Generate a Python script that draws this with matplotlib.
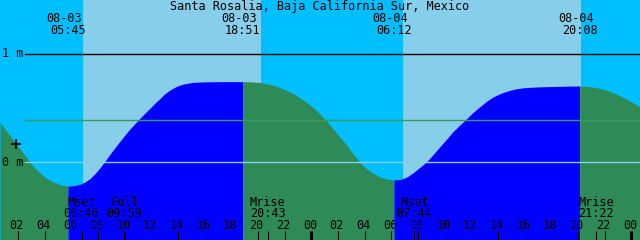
import matplotlib
matplotlib.use("Agg")
import matplotlib.pyplot as plt

# tide curve samples: hours since 08-03 00:00, metres
tide_hours = [0.65, 1.25, 1.85, 2.40, 2.90, 3.35, 3.80, 4.25, 4.70, 5.20, 5.75,
              6.20, 6.65, 7.05, 7.40, 7.80, 8.15, 8.55, 8.90, 9.30, 9.65,
              10.30, 11.00, 11.45, 11.90, 12.30, 12.65, 13.00, 13.40, 13.80,
              14.15, 14.60, 15.125, 15.75, 16.40, 17.50, 18.85,
              19.50, 20.15, 20.80, 21.425, 22.00, 22.625, 23.25, 23.90, 24.30,
              24.65, 25.15, 25.625, 26.15, 26.675, 27.15, 27.65, 28.10,
              28.625, 29.15, 29.675, 30.20,
              30.70, 31.175, 31.65, 32.15, 32.65, 33.15, 33.65, 34.15, 34.60,
              35.05, 35.525, 36.10, 36.65, 37.15, 37.625, 38.15, 38.675, 39.25,
              39.875, 40.75, 41.675, 43.00, 44.133,
              44.90, 45.65, 46.15, 46.625, 47.15, 47.675, 48.15, 48.65]
tide_heights = [0.366, 0.27, 0.175, 0.085, 0.0, -0.065, -0.115, -0.155, -0.185,
                -0.207, -0.22,
                -0.215, -0.203, -0.18, -0.15, -0.10, -0.05, 0.015, 0.075, 0.14,
                0.195, 0.295, 0.388, 0.445, 0.50, 0.55, 0.59, 0.632, 0.668,
                0.696, 0.714, 0.728, 0.738, 0.742, 0.744, 0.745, 0.745,
                0.743, 0.737, 0.722, 0.700, 0.672, 0.635, 0.588, 0.530, 0.488,
                0.446, 0.380, 0.310, 0.232, 0.155, 0.075, 0.0, -0.055, -0.100,
                -0.135, -0.155, -0.163,
                -0.157, -0.135, -0.095, -0.045, 0.005, 0.075, 0.145, 0.215,
                0.28, 0.335, 0.388, 0.458, 0.515, 0.565, 0.603, 0.634, 0.657,
                0.676, 0.688, 0.695, 0.699, 0.703, 0.705,
                0.698, 0.683, 0.666, 0.643, 0.615, 0.582, 0.548, 0.513]

# high / low tide events
extreme_days = [0, 0, 1, 1]
extreme_dates = ["08-03", "08-03", "08-04", "08-04"]
extreme_times = ["05:45", "18:51", "06:12", "20:08"]

# moon events
moon_days = [0, 0, 0, 1, 1]
moon_names = ["Mset", "Full", "Mrise", "Mset", "Mrise"]
moon_times = ["06:46", "09:59", "20:43", "07:44", "21:22"]

# daylight
sun_days = [0, 1]
sunrise_times = ["06:52", "06:52"]
sunset_times = ["20:13", "20:13"]

now_hour = 1.87
now_height = 0.17
mean_level = 0.388
title = "Santa Rosalia, Baja California Sur, Mexico"

T0, T1 = 0.65, 48.65
NIGHT = "#00BFFF"
DAY = "#87CEEB"
EBB = "#2E8B57"
FLOOD = "#0000FF"
FONT = dict(family="DejaVu Sans Mono", fontsize=8.5, color="black")


def to_hours(day, hhmm):
    h, m = hhmm.split(":")
    return day * 24 + int(h) + int(m) / 60.0


def ypx(p):
    # pixel row (from top) -> axes fraction
    return 1 - p / 240.0


fig = plt.figure(figsize=(6.4, 2.4), dpi=100)
ax = fig.add_axes([0, 0, 1, 1])
ax.set_xlim(T0, T1)
ax.set_ylim(-0.717, 1.499)
ax.axis("off")

# sky
ax.axvspan(T0, T1, color=NIGHT, lw=0, zorder=0)
for d, sr, ss in zip(sun_days, sunrise_times, sunset_times):
    ax.axvspan(to_hours(d, sr), to_hours(d, ss), color=DAY, lw=0, zorder=0)

# tide fill, blue while rising, green while falling
ext_hours = [to_hours(d, t) for d, t in zip(extreme_days, extreme_times)]
bounds = [T0] + ext_hours + [T1]
for i in range(len(bounds) - 1):
    a, b = bounds[i], bounds[i + 1]
    pts = [(t, h) for t, h in zip(tide_hours, tide_heights)
           if a - 0.01 <= t <= b + 0.01]
    xs = [p[0] for p in pts]
    ys = [p[1] for p in pts]
    rising = ys[-1] > ys[0]
    ax.fill_between(xs, ys, -1, color=FLOOD if rising else EBB, lw=0,
                    zorder=1)

# level lines
ax.axhline(1.0, xmin=25 / 640, color="black", lw=1.0, zorder=2)
ax.axhline(0.0, xmin=25 / 640, color="#87CEEB", lw=1.0, zorder=2)
ax.axhline(mean_level, xmin=25 / 640, color="#3A9A5E", lw=1.0, zorder=2)

tr = ax.get_xaxis_transform()
ax.text(2 / 640, ypx(57.3), "1 m", transform=ax.transAxes,
        ha="left", va="baseline", **FONT)
ax.text(2 / 640, ypx(166.5), "0 m", transform=ax.transAxes,
        ha="left", va="baseline", **FONT)

ax.plot([now_hour], [now_height], marker="+", color="black", ms=7, mew=1.2,
        zorder=4)

ax.text((T0 + T1) / 2, ypx(9.6), title, transform=tr, ha="center",
        va="baseline", **FONT)
for h, dt, tm in zip(ext_hours, extreme_dates, extreme_times):
    ax.text(h - 0.26, ypx(21.6), dt, transform=tr, ha="center",
            va="baseline", **FONT)
    ax.text(h, ypx(33.5), tm, transform=tr, ha="center", va="baseline",
            **FONT)

# hour ticks
for hr in range(2, 49, 2):
    lw = 2.2 if hr % 24 == 0 else 0.75
    ax.vlines(hr, 0, ypx(230.5), transform=tr, color="black", lw=lw, zorder=3)
    ax.text(hr - 0.1, ypx(229.3), "%02d" % (hr % 24), transform=tr,
            ha="center", va="baseline", **FONT)

# moon events
for d, name, tm in zip(moon_days, moon_names, moon_times):
    h = to_hours(d, tm)
    ax.vlines(h, 0, ypx(230.5), transform=tr, color="black", lw=0.75, zorder=3)
    ax.text(h, ypx(205.5), name, transform=tr, ha="center", va="baseline",
            **FONT)
    ax.text(h, ypx(217), tm, transform=tr, ha="center", va="baseline",
            **FONT)

fig.savefig("out.png", dpi=100)
